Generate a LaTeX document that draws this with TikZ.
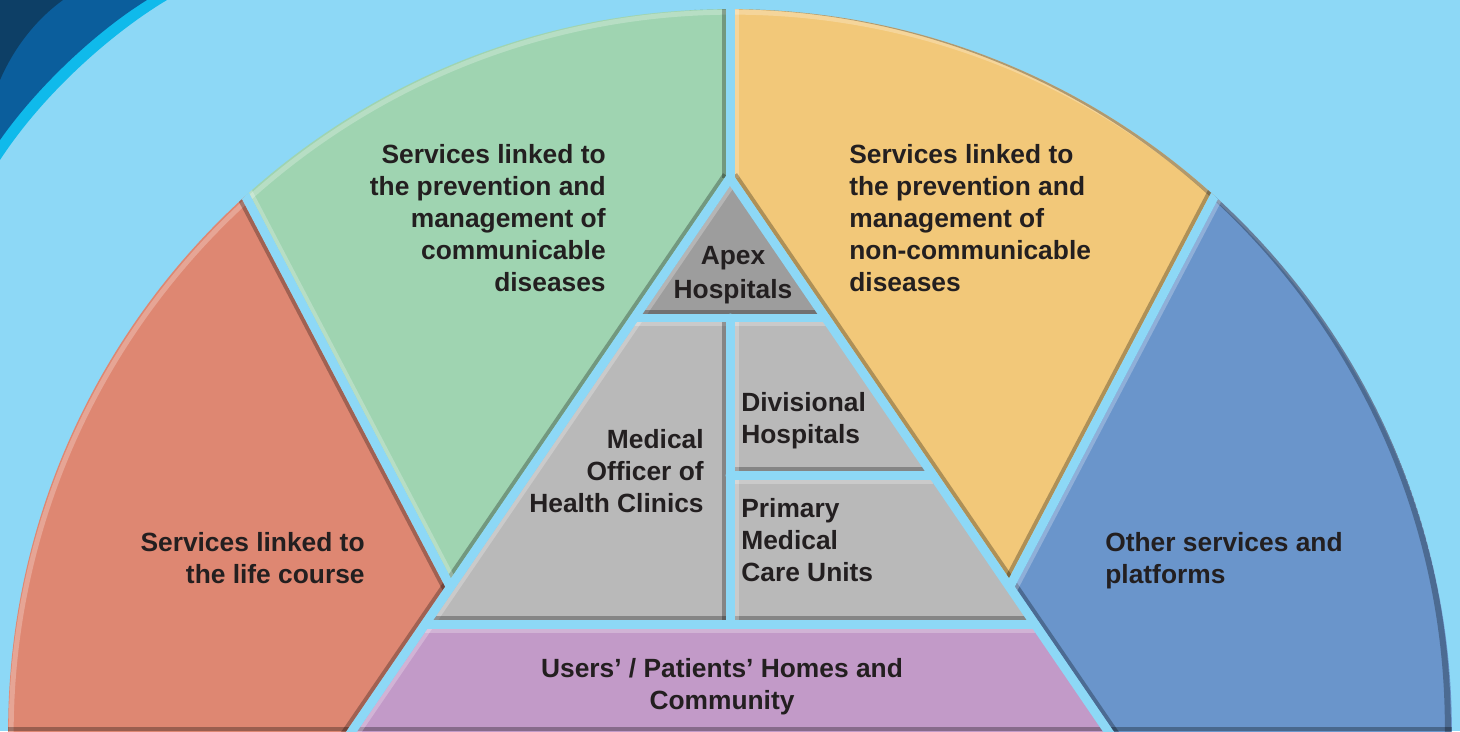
\documentclass[tikz,border=0pt]{standalone}
\usepackage{fontspec}
\setmainfont{Liberation Sans}
\usetikzlibrary{calc}
\definecolor{bg}{HTML}{8DD8F6}
\definecolor{swa}{HTML}{0D3F66}
\definecolor{swb}{HTML}{0B5E9C}
\definecolor{swc}{HTML}{0FBAEB}
\definecolor{redc}{HTML}{DE8772}
\definecolor{greenc}{HTML}{9FD4B1}
\definecolor{orangec}{HTML}{F2C879}
\definecolor{bluec}{HTML}{6A95CB}
\definecolor{grayl}{HTML}{B9B9B9}
\definecolor{grayd}{HTML}{9D9D9D}
\definecolor{purplec}{HTML}{C29AC8}
\definecolor{txtc}{HTML}{231F20}
\newcommand\bandl[3]{\draw[#3] ($(#1)!0.13cm!90:(#2)$) -- ($(#2)!0.13cm!-90:(#1)$);}
\begin{document}
\begin{tikzpicture}[x=0.02cm,y=0.02cm,
  txt/.style={font=\bfseries\fontsize{15}{18.1}\selectfont, text=txtc, inner sep=0pt},
  gapline/.style={draw=bg, line width=0.18cm, line cap=round},
  shadeband/.style={draw=black, draw opacity=0.28, line width=0.08cm},
  glowband/.style={draw=white, draw opacity=0.25, line width=0.08cm}]

\useasboundingbox (0,0) rectangle (1460,731);
\fill[bg] (0,0) rectangle (1460,731);

% corner swoosh
\fill[swc] (0,731) -- (167,731) .. controls (115,700) and (45,640) .. (0,571) -- cycle;
\fill[swb] (0,731) -- (147,731) .. controls (100,702) and (40,648) .. (0,591) -- cycle;
\fill[swa] (0,731) -- (63,731) .. controls (42,716) and (17,690) .. (0,651) -- cycle;

% key points
\coordinate (C) at (730,0);
\coordinate (T) at (730,553);
\coordinate (LB) at (345.2,-10);
\coordinate (RB) at (1114.8,-10);
\coordinate (P) at (450.45,144);
\coordinate (Q) at (138,740);
\coordinate (P2) at (1009.55,144);
\coordinate (Q2) at (1322,740);
\coordinate (VT) at (730,740);
\coordinate (H1L) at (634.3,413);
\coordinate (H1R) at (825.7,413);
\coordinate (H1M) at (730,413);
\coordinate (H2L) at (730,256);
\coordinate (H2R) at (933,256);
\coordinate (H3L) at (425.2,107);
\coordinate (H3R) at (1034.8,107);
\coordinate (H3M) at (730,107);

\begin{scope}
\clip (C) circle[radius=14.44cm];
% regions
\fill[redc] (0,-10) -- (LB) -- (P) -- (Q) -- (0,740) -- cycle;
\fill[greenc] (P) -- (T) -- (VT) -- (Q) -- cycle;
\fill[orangec] (P2) -- (T) -- (VT) -- (Q2) -- cycle;
\fill[bluec] (1460,-10) -- (RB) -- (P2) -- (Q2) -- (1460,740) -- cycle;
\fill[grayl] (T) -- (H3L) -- (H3R) -- cycle;
\fill[grayd] (T) -- (H1L) -- (H1R) -- cycle;
\fill[purplec] (LB) -- (H3L) -- (H3R) -- (RB) -- cycle;
% outer bevel
\draw[glowband, line width=0.1cm] (733,-3) circle[radius=14.44cm];
\draw[shadeband, line width=0.12cm] (726,3) circle[radius=14.44cm];
\fill[black, opacity=0.3] (0,0) rectangle (1460,4);
% bevel bands along the gaps
\bandl{VT}{T}{glowband}
\bandl{T}{VT}{shadeband}
\bandl{T}{LB}{glowband}
\bandl{LB}{T}{shadeband}
\bandl{T}{RB}{shadeband}
\bandl{P}{Q}{shadeband}
\bandl{Q}{P}{glowband}
\bandl{P2}{Q2}{shadeband}
\bandl{Q2}{P2}{glowband}
\bandl{H1R}{H1L}{glowband}
\bandl{H1L}{H1R}{shadeband}
\bandl{H2L}{H2R}{shadeband}
\bandl{H2R}{H2L}{glowband}
\bandl{H3L}{H3R}{shadeband}
\bandl{H3R}{H3L}{glowband}
\bandl{H1M}{H3M}{glowband}
\bandl{H3M}{H1M}{shadeband}
% gaps
\draw[gapline] (VT) -- (T);
\draw[gapline] (T) -- (LB);
\draw[gapline] (T) -- (RB);
\draw[gapline] (P) -- (Q);
\draw[gapline] (P2) -- (Q2);
\draw[gapline] (H1L) -- (H1R);
\draw[gapline] (H2L) -- (H2R);
\draw[gapline] (H3L) -- (H3R);
\draw[gapline] (H1M) -- (H3M);
\end{scope}

% labels
\node[txt, anchor=east, align=right] (comm) at (606,513)
  {Services linked to\\the prevention and\\management of\\communicable\\diseases};
\node[txt, anchor=west, align=left] (ncd) at (849,513)
  {Services linked to\\the prevention and\\management of\\non-communicable\\diseases};
\node[txt, font=\bfseries\fontsize{15}{19.3}\selectfont, align=center] (apex) at (733,455.5)
  {Apex\\Hospitals};
\node[txt, anchor=east, align=right] (moh) at (704,260)
  {Medical\\Officer of\\Health Clinics};
\node[txt, anchor=west, align=left] (div) at (741,310)
  {Divisional\\Hospitals};
\node[txt, anchor=west, align=left] (pmcu) at (741,191)
  {Primary\\Medical\\Care Units};
\node[txt, anchor=east, align=right] (life) at (365,173)
  {Services linked to\\the life course};
\node[txt, anchor=west, align=left] (other) at (1105,170.5)
  {Other services and\\platforms};
\node[txt, align=center] (home) at (722,44.5)
  {Users’ / Patients’ Homes and\\Community};
\end{tikzpicture}
\end{document}
